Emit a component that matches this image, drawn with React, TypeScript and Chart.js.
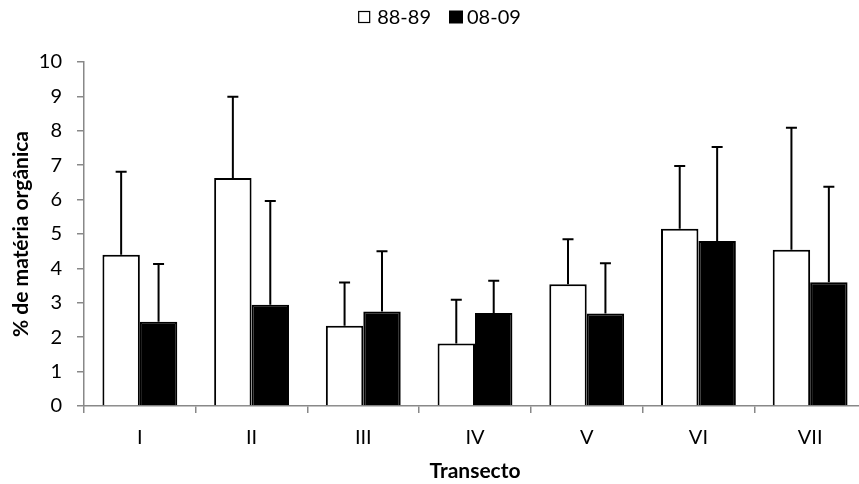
import React, { useEffect, useRef } from "react";
import { Chart, registerables } from "chart.js";

Chart.register(...registerables);

// Organic matter (%) per transect, two sampling periods, mean + upper SD
const transects = ["I", "II", "III", "IV", "V", "VI", "VII"];
const mean8889 = [4.4, 6.63, 2.33, 1.82, 3.54, 5.15, 4.54];
const sd8889 = [2.41, 2.36, 1.26, 1.27, 1.31, 1.83, 3.55];
const mean0809 = [2.45, 2.94, 2.75, 2.7, 2.69, 4.8, 3.6];
const sd0809 = [1.68, 3.02, 1.75, 0.94, 1.46, 2.73, 2.77];
const seriesLabels = ["88-89", "08-09"];

const FONT = "Lato, 'Open Sans', sans-serif";
const AXIS_GREY = "#888888";

// Upper-only error bars with a short cap, drawn over each bar
const errorBarsPlugin = {
  id: "errorBars",
  afterDatasetsDraw(chart: any) {
    const ctx = chart.ctx;
    const yScale = chart.scales.y;
    chart.data.datasets.forEach((ds: any, i: number) => {
      const meta = chart.getDatasetMeta(i);
      meta.data.forEach((bar: any, j: number) => {
        const top = yScale.getPixelForValue(ds.data[j] + ds.errors[j]);
        ctx.save();
        ctx.strokeStyle = "#000";
        ctx.lineWidth = 2;
        ctx.beginPath();
        ctx.moveTo(bar.x, bar.y);
        ctx.lineTo(bar.x, top);
        ctx.moveTo(bar.x - 5.5, top);
        ctx.lineTo(bar.x + 5.5, top);
        ctx.stroke();
        ctx.restore();
      });
    });
  },
};

// Compact legend centred above the plot
const legendPlugin = {
  id: "topLegend",
  afterDraw(chart: any) {
    const ctx = chart.ctx;
    ctx.save();
    ctx.font = `20px ${FONT}`;
    ctx.textBaseline = "middle";
    ctx.fillStyle = "#000";
    const box = 12;
    const gapBoxText = 7;
    const gapItems = 18;
    const w1 = ctx.measureText(seriesLabels[0]).width;
    const w2 = ctx.measureText(seriesLabels[1]).width;
    const total = box + gapBoxText + w1 + gapItems + box + gapBoxText - 3 + w2;
    let x = chart.width / 2 + 4.5 - total / 2;
    const yMid = 17;
    ctx.lineWidth = 1.2;
    ctx.strokeStyle = "#000";
    ctx.fillStyle = "#fff";
    ctx.fillRect(x, yMid - box / 2, box, box);
    ctx.strokeRect(x + 0.5, yMid - box / 2 + 0.5, box - 1, box - 1);
    x += box + gapBoxText;
    ctx.fillStyle = "#000";
    ctx.fillText(seriesLabels[0], x, yMid + 1);
    x += w1 + gapItems;
    ctx.fillRect(x, yMid - box / 2 - 0.5, box + 2, box + 1);
    x += box + gapBoxText - 1;
    ctx.fillText(seriesLabels[1], x, yMid + 1);
    ctx.restore();
  },
};

export default function App() {
  const canvasRef = useRef<HTMLCanvasElement | null>(null);

  useEffect(() => {
    if (!canvasRef.current) return;
    const chart = new Chart(canvasRef.current, {
      type: "bar",
      data: {
        labels: transects,
        datasets: [
          {
            label: seriesLabels[0],
            data: mean8889,
            errors: sd8889,
            backgroundColor: "#ffffff",
            borderColor: "#000000",
            borderWidth: 2,
            borderSkipped: "bottom",
          } as any,
          {
            label: seriesLabels[1],
            data: mean0809,
            errors: sd0809,
            backgroundColor: "#000000",
            borderColor: "#000000",
            borderWidth: 2,
            borderSkipped: "bottom",
          } as any,
        ],
      },
      options: {
        responsive: false,
        animation: false,
        devicePixelRatio: 1,
        layout: { padding: { top: 62, right: 2, bottom: 0, left: 0 } },
        datasets: {
          bar: { categoryPercentage: 0.67, barPercentage: 1 },
        },
        plugins: {
          legend: { display: false },
          tooltip: { enabled: false },
        },
        scales: {
          x: {
            offset: true,
            grid: {
              offset: true,
              drawOnChartArea: false,
              drawTicks: true,
              tickLength: 7,
              color: AXIS_GREY,
              lineWidth: 1.5,
            },
            border: { color: AXIS_GREY, width: 1.5 },
            ticks: {
              color: "#000",
              padding: 13,
              font: { family: FONT, size: 20 },
              maxRotation: 0,
            },
            title: {
              display: true,
              text: "Transecto",
              color: "#000",
              font: { family: FONT, size: 21, weight: "bold" },
              padding: { top: 0, bottom: 0 },
            },
            afterFit(scale: any) {
              scale.height = 78;
            },
          },
          y: {
            min: 0,
            max: 10,
            grid: {
              drawOnChartArea: false,
              drawTicks: true,
              tickLength: 7,
              color: AXIS_GREY,
              lineWidth: 1.5,
            },
            border: { color: AXIS_GREY, width: 1.5 },
            ticks: {
              stepSize: 1,
              color: "#000",
              padding: 15,
              font: { family: FONT, size: 20 },
            },
            title: {
              display: true,
              text: "% de matéria orgânica",
              color: "#000",
              font: { family: FONT, size: 21, weight: "bold" },
              padding: { top: 9, bottom: 0 },
            },
            afterFit(scale: any) {
              scale.width = 84;
            },
          },
        },
      },
      plugins: [errorBarsPlugin, legendPlugin],
    });
    return () => chart.destroy();
  }, []);

  return (
    <div
      style={{
        position: "absolute",
        left: 0,
        top: 0,
        width: 859,
        height: 484,
        overflow: "hidden",
        background: "#fff",
      }}
    >
      <canvas ref={canvasRef} width={868} height={484} />
    </div>
  );
}
